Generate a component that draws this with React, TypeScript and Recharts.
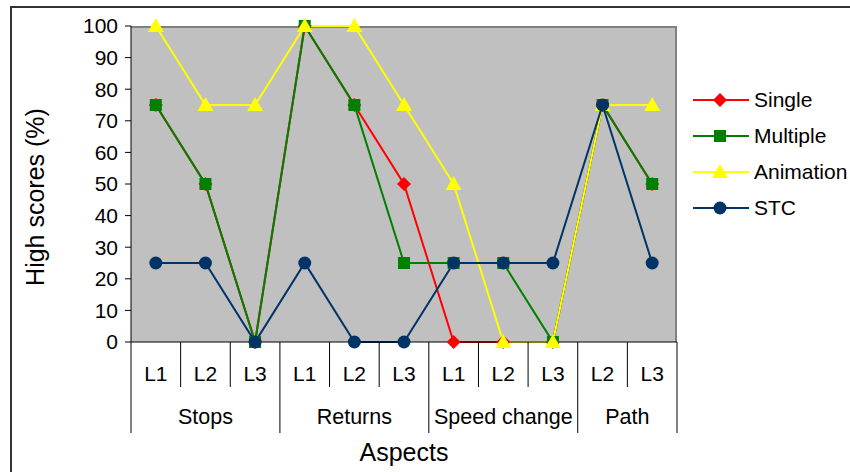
import { LineChart, Line, XAxis, YAxis, CartesianGrid, Legend } from "recharts";

const levels = ["L1", "L2", "L3", "L1", "L2", "L3", "L1", "L2", "L3", "L2", "L3"];
const aspects = ["Stops", "Stops", "Stops", "Returns", "Returns", "Returns", "Speed change", "Speed change", "Speed change", "Path", "Path"];
const single = [75, 50, 0, 100, 75, 50, 0, 0, 0, 75, 50];
const multiple = [75, 50, 0, 100, 75, 25, 25, 25, 0, 75, 50];
const animation = [100, 75, 75, 100, 100, 75, 50, 0, 0, 75, 75];
const stc = [25, 25, 0, 25, 0, 0, 25, 25, 25, 75, 25];
const yTicks = [0, 10, 20, 30, 40, 50, 60, 70, 80, 90, 100];

const data = levels.map((level, i) => ({
  key: `${aspects[i]}-${level}`,
  Single: single[i],
  Multiple: multiple[i],
  Animation: animation[i],
  STC: stc[i],
}));

const W = 850;
const H = 472;
const PLOT_LEFT = 131;
const PLOT_RIGHT = 677;
const PLOT_TOP = 26;
const PLOT_BOTTOM = 342;
const BAND = (PLOT_RIGHT - PLOT_LEFT) / levels.length;
const FONT = '"Liberation Sans", Arial, sans-serif';

const COLORS = { Single: "#FF0000", Multiple: "#008000", Animation: "#FFFF00", STC: "#003366" };

function Marker({ type, cx, cy, color }: { type: string; cx: number; cy: number; color: string }) {
  if (type === "diamond") {
    return <polygon points={`${cx},${cy - 7} ${cx + 7},${cy} ${cx},${cy + 7} ${cx - 7},${cy}`} fill={color} />;
  }
  if (type === "square") {
    return <rect x={cx - 6} y={cy - 6} width={12} height={12} fill={color} />;
  }
  if (type === "triangle") {
    return <polygon points={`${cx},${cy - 8} ${cx + 8},${cy + 6} ${cx - 8},${cy + 6}`} fill={color} />;
  }
  return <circle cx={cx} cy={cy} r={6.5} fill={color} />;
}

const SERIES = [
  { name: "Single", marker: "diamond" },
  { name: "Multiple", marker: "square" },
  { name: "Animation", marker: "triangle" },
  { name: "STC", marker: "circle" },
];

function CategoryTick(props: any) {
  const { x, payload } = props;
  const i = data.findIndex((d) => d.key === payload.value);
  if (i < 0) return null;
  const y = PLOT_BOTTOM;
  const groupStart = i === 0 || aspects[i] !== aspects[i - 1];
  const last = i === levels.length - 1;
  let first = i;
  while (first > 0 && aspects[first - 1] === aspects[i]) first--;
  let end = i;
  while (end < levels.length - 1 && aspects[end + 1] === aspects[i]) end++;
  const groupCenter = x + ((first + end) / 2 - i) * BAND;
  return (
    <g>
      <line x1={x - BAND / 2} x2={x - BAND / 2} y1={y} y2={groupStart ? y + 91 : y + 45} stroke="#000" />
      {last && <line x1={x + BAND / 2} x2={x + BAND / 2} y1={y} y2={y + 91} stroke="#000" />}
      <text x={x} y={y + 31} textAnchor="middle" dominantBaseline="central" fontSize={21} fontFamily={FONT} fill="#000">
        {levels[i]}
      </text>
      {i === first && (
        <text x={groupCenter} y={y + 75} textAnchor="middle" dominantBaseline="central" fontSize={21.5} fontFamily={FONT} fill="#000">
          {aspects[i]}
        </text>
      )}
    </g>
  );
}

function LegendContent() {
  return (
    <div style={{ fontFamily: FONT, fontSize: 21, color: "#000" }}>
      {SERIES.map((s) => (
        <div key={s.name} style={{ height: 36, display: "flex", alignItems: "center" }}>
          <svg width={56} height={20} style={{ marginRight: 5 }}>
            <line x1={0} x2={56} y1={10} y2={10} stroke={COLORS[s.name as keyof typeof COLORS]} strokeWidth={2} />
            <Marker type={s.marker} cx={27} cy={10} color={COLORS[s.name as keyof typeof COLORS]} />
          </svg>
          <span>{s.name}</span>
        </div>
      ))}
    </div>
  );
}

export default function App() {
  const labelY = 197;
  return (
    <div style={{ position: "absolute", left: 0, top: 0, width: W, height: H, background: "#fff" }}>
      <div style={{ position: "absolute", left: 10, top: 6, right: 0, bottom: 0, borderLeft: "2px solid #333", borderTop: "2px solid #333" }} />
      <LineChart width={W} height={H} data={data} margin={{ top: PLOT_TOP, right: W - PLOT_RIGHT, left: 0, bottom: 0 }}>
        <CartesianGrid
          fill="#C0C0C0"
          stroke="#808080"
          strokeWidth={2}
          horizontalPoints={[PLOT_TOP + 1]}
          verticalPoints={[PLOT_RIGHT - 1]}
        />
        <XAxis
          dataKey="key"
          height={H - PLOT_BOTTOM}
          padding={{ left: BAND / 2, right: BAND / 2 }}
          interval={0}
          tickLine={false}
          tickSize={0}
          tickMargin={0}
          axisLine={{ stroke: "#000" }}
          tick={<CategoryTick />}
        />
        <YAxis
          width={PLOT_LEFT}
          domain={[0, 100]}
          ticks={yTicks}
          interval={0}
          tickSize={6}
          tickMargin={7}
          axisLine={{ stroke: "#000" }}
          tickLine={{ stroke: "#000" }}
          tick={{ fill: "#000", fontSize: 21, fontFamily: FONT }}
          label={{
            content: () => (
              <text
                x={35}
                y={labelY}
                transform={`rotate(-90, 35, ${labelY})`}
                textAnchor="middle"
                dominantBaseline="central"
                fontSize={25}
                fontFamily={FONT}
                fill="#000"
              >
                High scores (%)
              </text>
            ),
          }}
        />
        <Legend
          layout="vertical"
          align="center"
          verticalAlign="middle"
          wrapperStyle={{ left: 693, top: 82, width: 157 }}
          content={<LegendContent />}
        />
        {SERIES.map((s) => {
          const color = COLORS[s.name as keyof typeof COLORS];
          return (
            <Line
              key={s.name}
              dataKey={s.name}
              stroke={color}
              strokeWidth={2}
              isAnimationActive={false}
              activeDot={false}
              dot={(p: any) => <Marker key={`${s.name}-${p.index}`} type={s.marker} cx={p.cx} cy={p.cy} color={color} />}
            />
          );
        })}
        <text x={(PLOT_LEFT + PLOT_RIGHT) / 2} y={452} textAnchor="middle" dominantBaseline="central" fontSize={25} fontFamily={FONT} fill="#000">
          Aspects
        </text>
      </LineChart>
    </div>
  );
}
